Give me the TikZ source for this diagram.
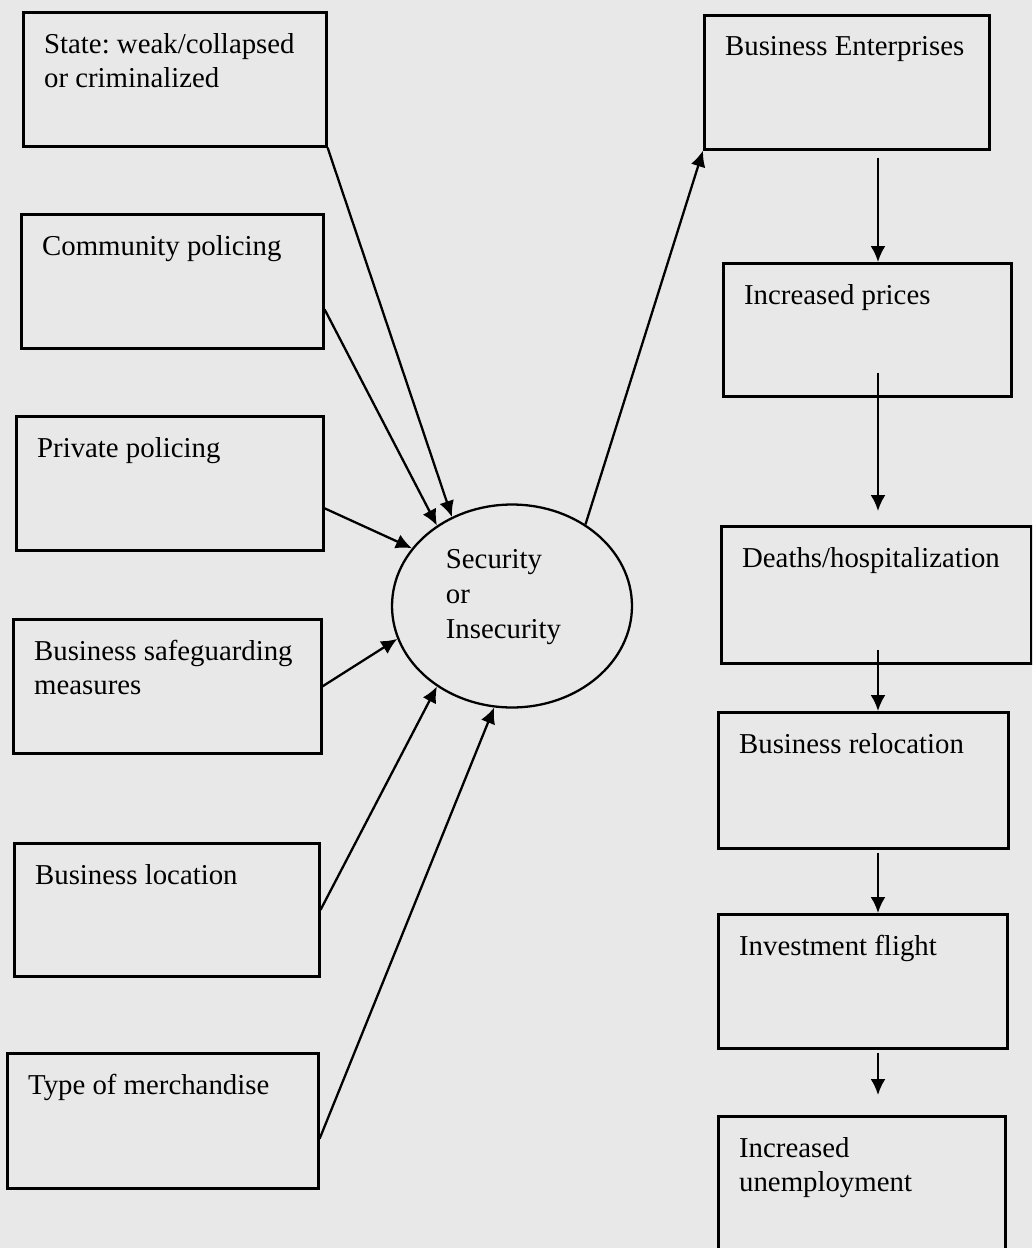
\documentclass[tikz,border=0pt]{standalone}
\usepackage{fontspec}
\setmainfont{Liberation Serif}
\frenchspacing
\usetikzlibrary{shapes.geometric,arrows.meta}

\begin{document}
\begin{tikzpicture}[x=0.02cm,y=-0.02cm,>={Latex[length=0.32cm,width=0.3cm]},
  line width=1.3pt,
  box node/.style={draw,rectangle,anchor=north west,inner sep=0pt,line width=1.5pt},
  box text/.style={anchor=north west,inner sep=0pt,xshift=0.42cm,yshift=-0.42cm,
    align=left,font=\fontsize{16.4}{19.5}\selectfont},
  core node/.style={draw,ellipse,inner sep=0pt,minimum width=4.8cm,
    minimum height=4.06cm},
  core text/.style={anchor=center,inner sep=0pt,xshift=-0.17cm,yshift=0.18cm,
    align=left,font=\fontsize{16.4}{20}\selectfont}]

  \useasboundingbox (0,0) rectangle (1032,1248);
  \clip (0,0) rectangle (1032,1248);
  \fill[black!9] (0,0) rectangle (1032,1248);

  % causes, left column
  \node[box node,minimum width=6.06cm,minimum height=2.68cm,
    label={[box text]north west:{State: weak/collapsed\\or criminalized}}] (state) at (22,11) {};
  \node[box node,minimum width=6.04cm,minimum height=2.68cm,
    label={[box text]north west:{Community policing}}] (community) at (20,213) {};
  \node[box node,minimum width=6.14cm,minimum height=2.68cm,
    label={[box text]north west:{Private policing}}] (private) at (15,415) {};
  \node[box node,minimum width=6.16cm,minimum height=2.68cm,
    label={[box text]north west:{Business safeguarding\\measures}}] (safeguard) at (12,618) {};
  \node[box node,minimum width=6.10cm,minimum height=2.66cm,
    label={[box text]north west:{Business location}}] (location) at (13,842) {};
  \node[box node,minimum width=6.22cm,minimum height=2.70cm,
    label={[box text]north west:{Type of merchandise}}] (merchandise) at (6,1052) {};

  % the core
  \node[core node,label={[core text]center:{Security\\or\\Insecurity}}] (core) at (512,606) {};

  % effects, right column
  \node[box node,minimum width=5.70cm,minimum height=2.68cm,
    label={[box text]north west:{Business Enterprises}}] (enterprises) at (703,14) {};
  \node[box node,minimum width=5.76cm,minimum height=2.66cm,
    label={[box text]north west:{Increased prices}}] (prices) at (722,262) {};
  \node[box node,minimum width=6.20cm,minimum height=2.74cm,
    label={[box text]north west:{Deaths/hospitalization}}] (deaths) at (720,525) {};
  \node[box node,minimum width=5.80cm,minimum height=2.72cm,
    label={[box text]north west:{Business relocation}}] (relocation) at (717,711) {};
  \node[box node,minimum width=5.78cm,minimum height=2.68cm,
    label={[box text]north west:{Investment flight}}] (investment) at (717,913) {};
  \node[box node,minimum width=5.74cm,minimum height=5.2cm,
    label={[box text]north west:{Increased\\unemployment}}] (unemployment) at (717,1115) {};

  \path[->]
    (state.south east) edge (core.124)
    ([yshift=-0.56cm]community.east) edge (core.133.5)
    ([yshift=-0.5cm]private.east) edge (core.150)
    (safeguard.east) edge (core.196)
    (location.east) edge (core.227.5)
    ([yshift=-0.36cm]merchandise.east) edge (core.260)
    (core.48.5) edge (enterprises.south west);

  \coordinate (col) at (878,0);
  \path[->]
    (enterprises.south -| col) edge[shorten <=0.14cm] (prices.north -| col)
    (prices.south -| col) edge[shorten <=-0.5cm,shorten >=0.28cm] (deaths.north -| col)
    (deaths.south -| col) edge[shorten <=-0.3cm] (relocation.north -| col)
    (relocation.south -| col) edge[shorten <=0.06cm] (investment.north -| col)
    (investment.south -| col) edge[shorten <=0.06cm,shorten >=0.4cm] (unemployment.north -| col);
\end{tikzpicture}
\end{document}
